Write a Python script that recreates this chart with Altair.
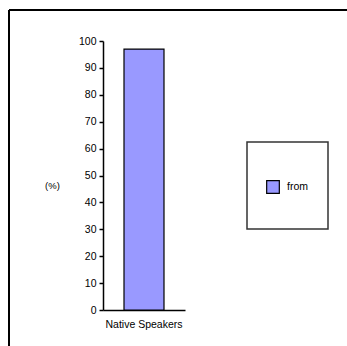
import altair as alt
import pandas as pd

# Chart data
categories = ["Native Speakers"]
series_names = ["from"]
values = [97]

df = pd.DataFrame({"category": categories, "series": series_names, "value": values})

FONT = "Liberation Sans"
PLOT_W, PLOT_H = 82, 269
LEFT, TOP = 103, 41

base = alt.Chart(df)

bars = base.mark_bar(size=40, stroke="black", strokeWidth=1.2).encode(
    x=alt.X("category:N", title=None,
            axis=alt.Axis(labelAngle=0, ticks=False, labelPadding=9,
                          labelFontSize=10.5, labelColor="black", labelFont=FONT,
                          domainColor="black", domainWidth=1.5)),
    y=alt.Y("value:Q", title="(%)",
            scale=alt.Scale(domain=[0, 100], nice=False),
            axis=alt.Axis(values=list(range(0, 101, 10)), grid=False,
                          tickSize=4, tickColor="black", tickWidth=1.5,
                          labelPadding=3, labelFontSize=10.5, labelColor="black",
                          labelFont=FONT, domainColor="black", domainWidth=1.5,
                          titleAngle=0, titleX=-51, titleY=144,
                          titleAlign="center", titleBaseline="middle",
                          titleFont=FONT, titleFontSize=9.5,
                          titleFontWeight="normal", titleColor="black")),
    color=alt.Color("series:N", scale=alt.Scale(range=["#9999FF"]),
                    legend=alt.Legend(title=None, orient="none",
                                      legendX=163, legendY=139,
                                      padding=0, symbolType="square",
                                      symbolSize=160, symbolStrokeColor="black",
                                      symbolStrokeWidth=1.2, symbolOpacity=1,
                                      labelFont=FONT, labelFontSize=10.5,
                                      labelColor="black", labelOffset=7)),
)

# Box around the legend
legend_box = base.mark_rect(fill="white", stroke="#333333", strokeWidth=1.5).encode(
    x=alt.value(247 - LEFT), x2=alt.value(328 - LEFT),
    y=alt.value(142 - TOP), y2=alt.value(229 - TOP),
)

# Outer frame (top and left edges)
frame_top = base.mark_rule(color="black", strokeWidth=2).encode(
    x=alt.value(9 - LEFT), x2=alt.value(360 - LEFT), y=alt.value(10 - TOP),
)
frame_left = base.mark_rule(color="black", strokeWidth=2).encode(
    x=alt.value(9 - LEFT), y=alt.value(10 - TOP), y2=alt.value(360 - TOP),
)

chart = alt.layer(frame_top, frame_left, legend_box, bars).properties(
    width=PLOT_W, height=PLOT_H,
    padding={"left": LEFT, "top": TOP, "right": 347 - LEFT - PLOT_W,
             "bottom": 346 - TOP - PLOT_H},
    autosize=alt.AutoSizeParams(type="none"),
    background="white",
).configure_view(stroke=None)

chart.save("out.html", embed_options={"renderer": "svg", "actions": False})
